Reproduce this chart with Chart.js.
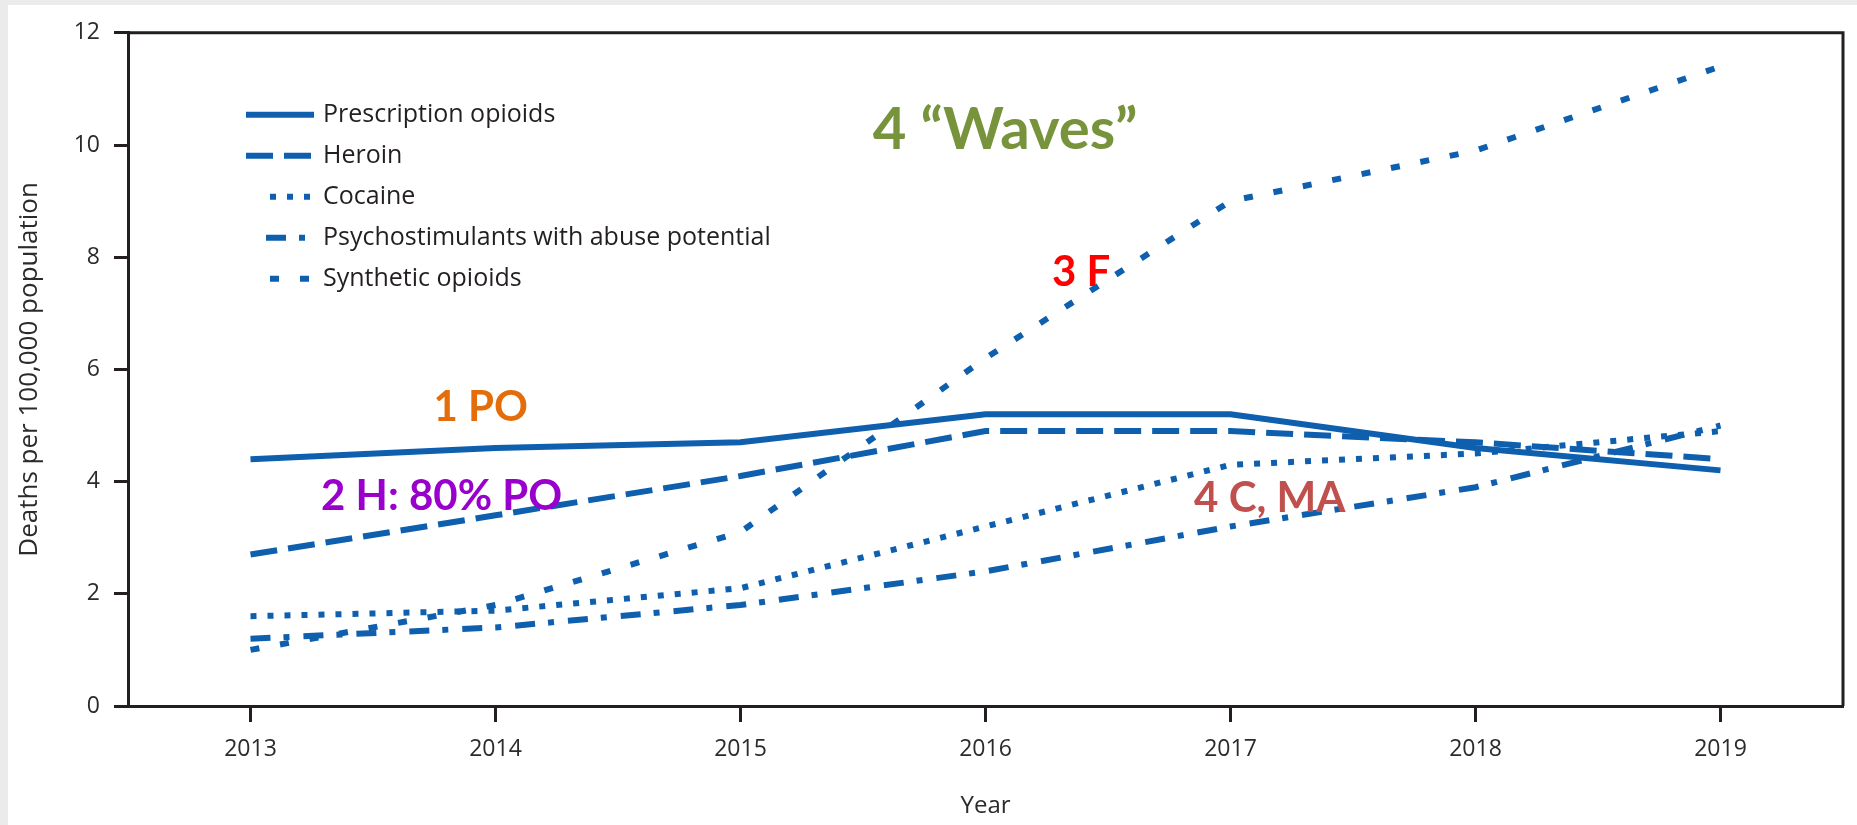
<!DOCTYPE html>
<html>
<head>
<meta charset="utf-8">
<title>Overdose deaths by drug type</title>
<script src="https://cdn.jsdelivr.net/npm/chart.js@4.4.1/dist/chart.umd.min.js"></script>
<style>
  html, body { margin: 0; padding: 0; background: #ebebeb; overflow: hidden; }
  #wrap { position: absolute; left: 8px; top: 5px; width: 1849px; height: 820px; background: #fff; }
</style>
</head>
<body>
<div id="wrap"><canvas id="chart" width="1849" height="820"></canvas></div>
<script>
// Dados (mortes por 100.000 habitantes)
const years = ['2013', '2014', '2015', '2016', '2017', '2018', '2019'];
const prescriptionOpioids = [4.4, 4.6, 4.7, 5.2, 5.2, 4.6, 4.2];
const heroin = [2.7, 3.4, 4.1, 4.9, 4.9, 4.7, 4.4];
const cocaine = [1.6, 1.7, 2.1, 3.2, 4.3, 4.5, 4.9];
const psychostimulants = [1.2, 1.4, 1.8, 2.4, 3.2, 3.9, 5.0];
const syntheticOpioids = [1.0, 1.8, 3.1, 6.2, 9.0, 9.9, 11.4];
const yTicks = [0, 2, 4, 6, 8, 10, 12];

const BLUE = '#0e5fae';
const INK = '#231f20';

// Textos sobre o gráfico (posição em ano / valor)
const notes = [
    { text: '4 \u201cWaves\u201d', year: 2016.08, value: 9.93, color: '#77933c', size: 58 },
    { text: '3 F', year: 2016.39, value: 7.48, color: '#ff0000', size: 42 },
    { text: '1 PO', year: 2013.94, value: 5.08, color: '#e46c0a', size: 42 },
    { text: '2 H: 80% PO', year: 2013.78, value: 3.49, color: '#9900cc', size: 42 },
    { text: '4 C, MA', year: 2017.16, value: 3.46, color: '#c0504d', size: 42 }
];

function makeLine(label, data, dash, legendInset) {
    return {
        label: label,
        data: data,
        borderColor: BLUE,
        backgroundColor: BLUE,
        borderWidth: 6,
        borderDash: dash,
        borderCapStyle: 'butt',
        pointRadius: 0,
        tension: 0,
        fill: false,
        legendInset: legendInset
    };
}

// Moldura (topo e lado direito)
const framePlugin = {
    id: 'frame',
    afterDatasetsDraw(chart) {
        const { ctx, chartArea } = chart;
        ctx.save();
        ctx.strokeStyle = INK;
        ctx.lineWidth = 3;
        ctx.beginPath();
        ctx.moveTo(chartArea.left, chartArea.top);
        ctx.lineTo(chartArea.right, chartArea.top);
        ctx.lineTo(chartArea.right, chartArea.bottom);
        ctx.stroke();
        ctx.restore();
    }
};

// Legenda dentro da área do gráfico
const insideLegend = {
    id: 'insideLegend',
    afterDraw(chart) {
        const { ctx, chartArea } = chart;
        const x0 = chartArea.left + 118;
        const x1 = x0 + 68;
        const textX = chartArea.left + 195;
        chart.data.datasets.forEach((ds, i) => {
            const y = chartArea.top + 82 + i * 41;
            ctx.save();
            ctx.strokeStyle = ds.borderColor;
            ctx.lineWidth = ds.borderWidth;
            ctx.lineCap = 'butt';
            ctx.setLineDash(ds.borderDash || []);
            ctx.beginPath();
            ctx.moveTo(x0 + (ds.legendInset || 0), y);
            ctx.lineTo(x1, y);
            ctx.stroke();
            ctx.setLineDash([]);
            ctx.fillStyle = INK;
            ctx.font = '25px "Open Sans"';
            ctx.textBaseline = 'middle';
            ctx.textAlign = 'left';
            ctx.fillText(ds.label, textX, y);
            ctx.restore();
        });
    }
};

// Anotações coloridas
const notesPlugin = {
    id: 'notes',
    afterDraw(chart) {
        const { ctx } = chart;
        const xs = chart.scales.x;
        const ys = chart.scales.y;
        notes.forEach(n => {
            ctx.save();
            ctx.fillStyle = n.color;
            ctx.font = `bold ${n.size}px Lato`;
            ctx.textAlign = 'center';
            ctx.textBaseline = 'alphabetic';
            ctx.fillText(n.text, xs.getPixelForValue(n.year - 2013), ys.getPixelForValue(n.value));
            ctx.restore();
        });
    }
};

Chart.defaults.font.family = '"Open Sans", sans-serif';
Chart.defaults.color = INK;

const ctx = document.getElementById('chart').getContext('2d');
new Chart(ctx, {
    type: 'line',
    data: {
        labels: years,
        datasets: [
            makeLine('Prescription opioids', prescriptionOpioids, [], 0),
            makeLine('Heroin', heroin, [27, 11], 0),
            makeLine('Cocaine', cocaine, [6, 11], 24),
            makeLine('Psychostimulants with abuse potential', psychostimulants, [20, 13, 6, 14], 20),
            makeLine('Synthetic opioids', syntheticOpioids, [9, 21], 24)
        ]
    },
    options: {
        responsive: false,
        animation: false,
        layout: { padding: { left: 0, top: 21, right: 14, bottom: 0 } },
        plugins: {
            legend: { display: false },
            tooltip: { enabled: false }
        },
        scales: {
            x: {
                type: 'category',
                offset: true,
                afterFit: scale => { scale.height = 119; },
                grid: {
                    drawOnChartArea: false,
                    drawTicks: true,
                    tickLength: 16,
                    tickWidth: 3,
                    tickColor: INK,
                    offset: false
                },
                border: { display: true, width: 3, color: INK },
                ticks: { font: { size: 23 }, color: '#2b2b2b', padding: 14, maxRotation: 0 },
                title: { display: true, text: 'Year', font: { size: 24 }, color: '#2b2b2b', padding: { top: 0, bottom: 4 } }
            },
            y: {
                min: 0,
                max: 12,
                afterFit: scale => { scale.width = 120; },
                afterBuildTicks: scale => { scale.ticks = yTicks.map(v => ({ value: v })); },
                grid: {
                    drawOnChartArea: false,
                    drawTicks: true,
                    tickLength: 14,
                    tickWidth: 3,
                    tickColor: INK
                },
                border: { display: true, width: 3, color: INK },
                ticks: { font: { size: 23 }, color: '#2b2b2b', padding: 14 },
                title: { display: true, text: 'Deaths per 100,000 population', font: { size: 26 }, color: '#2b2b2b', padding: { top: 6, bottom: 0 } }
            }
        }
    },
    plugins: [framePlugin, insideLegend, notesPlugin]
});
</script>
</body>
</html>
